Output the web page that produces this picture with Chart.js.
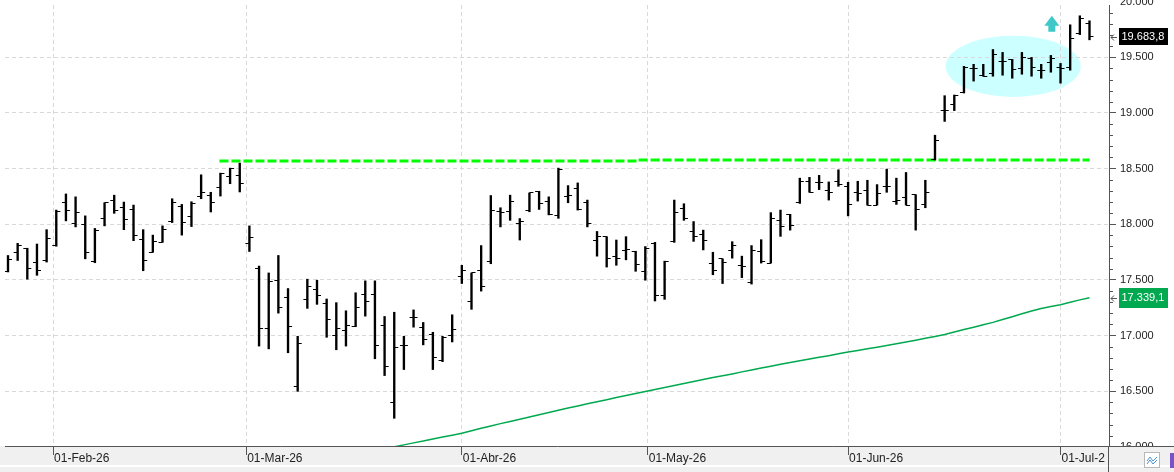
<!DOCTYPE html>
<html><head><meta charset="utf-8">
<script src="https://cdn.jsdelivr.net/npm/chart.js@4.4.1/dist/chart.umd.min.js"></script>
<style>html,body{margin:0;padding:0;background:#fff;overflow:hidden}#wrap{width:1174px;height:472px}</style>
</head><body><div id="wrap"><canvas id="c" width="1174" height="472"></canvas></div>
<script>
// ---- trading days (categories) ----
const dates = [
 '2026-01-26','2026-01-27','2026-01-28','2026-01-29','2026-01-30',
 '2026-02-02','2026-02-03','2026-02-04','2026-02-05','2026-02-06','2026-02-09','2026-02-10','2026-02-11','2026-02-12','2026-02-13',
 '2026-02-16','2026-02-17','2026-02-18','2026-02-19','2026-02-20','2026-02-23','2026-02-24','2026-02-25','2026-02-26','2026-02-27',
 '2026-03-02','2026-03-03','2026-03-04','2026-03-05','2026-03-06','2026-03-09','2026-03-10','2026-03-11','2026-03-12','2026-03-13',
 '2026-03-16','2026-03-17','2026-03-18','2026-03-19','2026-03-20','2026-03-23','2026-03-24','2026-03-25','2026-03-26','2026-03-27','2026-03-30','2026-03-31',
 '2026-04-01','2026-04-02','2026-04-07','2026-04-08','2026-04-09','2026-04-10','2026-04-13','2026-04-14','2026-04-15','2026-04-16',
 '2026-04-17','2026-04-20','2026-04-21','2026-04-22','2026-04-23','2026-04-24','2026-04-27','2026-04-28','2026-04-29','2026-04-30',
 '2026-05-04','2026-05-05','2026-05-06','2026-05-07','2026-05-08','2026-05-11','2026-05-12','2026-05-13','2026-05-14','2026-05-15',
 '2026-05-18','2026-05-19','2026-05-20','2026-05-21','2026-05-22','2026-05-25','2026-05-26','2026-05-27','2026-05-28','2026-05-29',
 '2026-06-01','2026-06-02','2026-06-03','2026-06-04','2026-06-05','2026-06-08','2026-06-09','2026-06-10','2026-06-11','2026-06-12',
 '2026-06-15','2026-06-16','2026-06-17','2026-06-18','2026-06-19','2026-06-22','2026-06-23','2026-06-24','2026-06-25','2026-06-26','2026-06-29','2026-06-30',
 '2026-07-01','2026-07-02','2026-07-03','2026-07-06'
];
// ---- OHLC series ----
const open = [17571,17748,17784,17660,17674,
 17808,18199,18006,18000,17666,18051,18217,18154,18133,17861,17748,17837,18021,18163,18069,18253,18258,18326,18430,18439,
 17828,17606,17062,17497,17340,16540,17328,17417,17286,16999,17044,17082,17364,17364,17088,16395,16911,17162,17074,17008,16778,16999,
 17532,17310,17580,17666,18110,18112,18006,18127,18290,18208,18075,18253,18317,18193,17852,17888,17710,17764,17757,17577,
 17828,17358,17843,18139,17933,17911,17651,17689,17764,17631,17473,17757,17651,18035,18089,18193,18380,18377,18305,18386,
 18341,18287,18305,18172,18341,18208,18238,18266,18178,18586,19021,19072,19188,19401,19339,19357,19463,19481,19401,19490,19384,19454,
 19410,19410,19713,19801];
const high = [17719,17828,17784,17822,17951,
 18127,18272,18246,18075,17962,18193,18261,18199,18172,17951,17902,17985,18229,18178,18202,18444,18287,18459,18504,18549,
 17985,17624,17562,17719,17422,16993,17506,17497,17328,17295,17222,17384,17491,17491,17171,17209,16993,17230,17117,17029,16993,17186,
 17631,17562,17808,18258,18148,18261,18051,18281,18296,18246,18504,18347,18371,18217,17935,17888,17858,17888,17757,17799,
 17837,17668,18217,18184,18024,17947,17748,17689,17843,17713,17808,17861,18104,18127,18089,18414,18421,18439,18380,18489,
 18377,18386,18395,18356,18495,18414,18465,18266,18395,18800,19155,19161,19419,19437,19437,19570,19544,19481,19544,19499,19437,19517,
 19445,19792,19873,19828];
const low = [17571,17674,17506,17541,17660,
 17802,18030,17976,17689,17654,17985,18098,17951,17852,17582,17748,17837,18015,17902,17979,18229,18110,18253,18364,18290,
 17755,16905,16880,17201,16845,16498,17244,17280,16984,16872,16905,17079,17174,16791,16640,16256,16694,17075,16916,16694,16765,16942,
 17467,17235,17399,17645,17976,18035,17858,18112,18133,18084,18053,18193,18127,17976,17713,17615,17631,17680,17577,17497,
 17310,17325,17837,18035,17846,17769,17546,17467,17695,17520,17462,17651,17651,17891,17947,18187,18287,18311,18217,18341,
 18075,18208,18172,18172,18287,18178,18172,17947,18148,18577,18924,19021,19179,19286,19330,19330,19339,19312,19348,19330,19312,19366,
 19268,19384,19704,19657];
const close = [17683,17811,17600,17586,17875,
 18112,18119,18104,17748,17942,18193,18119,18039,17902,17674,17843,17951,18199,18015,18187,18287,18193,18459,18504,18362,
 17882,17062,17488,17251,17079,16928,17444,17358,17141,17062,17088,17251,17302,16911,16718,16893,16911,17165,16964,16806,16978,17053,
 17580,17562,17444,18127,18104,18202,18021,18281,18184,18084,18495,18261,18133,18006,17888,17695,17695,17773,17639,17784,
 17358,17668,18104,18051,17888,17852,17580,17660,17808,17622,17764,17666,18053,17979,17991,18386,18287,18377,18281,18356,
 18178,18275,18172,18272,18341,18217,18172,18133,18287,18755,19021,19155,19410,19401,19330,19526,19463,19393,19499,19410,19384,19490,
 19401,19668,19846,19683.8];
// ---- moving average (visible part only; earlier values lie below the axis) ----
const ma = [null,null,null,null,null,null,null,null,null,null,null,null,null,null,null,null,null,null,null,null,
 null,null,null,null,null,null,null,null,null,null,null,null,null,null,null,null,null,null,null,
 15987,16000,16017,16035,16051,16069,16087,16104,16122,16144,16166,16186,16208,16228,16248,16268,16288,16308,16328,16348,
 16367,16386,16404,16423,16442,16460,16479,16497,16515,16533,16551,16569,16587,16604,16622,16638,16655,16673,16690,16707,
 16724,16741,16757,16773,16788,16804,16819,16835,16851,16866,16881,16895,16910,16925,16941,16958,16975,16992,17009,17031,
 17053,17075,17096,17118,17144,17169,17195,17221,17243,17260,17277,17299,17320,17339.1];
// ---- month ticks ----
const monthStarts = ['2026-02-01','2026-03-01','2026-04-01','2026-05-01','2026-06-01','2026-07-01'];
const monthLabels = ['01-Feb-26','01-Mar-26','01-Abr-26','01-May-26','01-Jun-26','01-Jul-2'];
// ---- price axis ticks ----
const yTickValues = [];
for (let v = 16000; v <= 20000; v += 100) yTickValues.push(v);
const lastPrice = 19683.8;
const lastMA = 17339.1;
// ---- annotations (data coordinates) ----
const resistance = [{from: 21.9, to: 65.3, level: 18567}, {from: 65.3, to: 112.0, level: 18576}];
const zone = {x: 104.1, y: 19419, rx: 7.0, ry: 275};
const arrowUp = {x: 108.1, y: 19873};

// fractional positions of the month starts between trading days
const dayMs = s => Date.parse(s + 'T00:00:00Z');
const monthPos = monthStarts.map(m => {
  const t = dayMs(m);
  for (let i = 0; i < dates.length; i++) {
    const d = dayMs(dates[i]);
    if (d === t) return i;
    if (d > t) { const p = dayMs(dates[i - 1]); return i - 1 + (t - p) / (d - p); }
  }
  return dates.length;
});
const fmtInt = v => Math.floor(v / 1000) + '.' + String(Math.round(v % 1000)).padStart(3, '0');
const fmtDec = v => { const i = Math.floor(v); const d = Math.round((v - i) * 10); return fmtInt(i) + ',' + d; };

function tickImg(left) {
  const c = document.createElement('canvas'); c.width = 10; c.height = 1;
  const g = c.getContext('2d'); g.fillStyle = '#000';
  if (left) g.fillRect(1, 0, 4, 1); else g.fillRect(5, 0, 4, 1);
  return c;
}

Chart.defaults.font.family = '"Liberation Sans", Arial, sans-serif';

const decor = {
  id: 'decor',
  beforeDraw(chart) {
    const {ctx, chartArea: a, width: W, height: H} = chart;
    const xs = chart.scales.x, ys = chart.scales.y;
    ctx.save();
    ctx.fillStyle = '#fff'; ctx.fillRect(0, 0, W, H);
    ctx.fillStyle = '#f0f0f0'; ctx.fillRect(0, a.bottom, W, H - a.bottom);
    ctx.fillStyle = '#fff'; ctx.fillRect(0, H - 7, W, 2);
    const cx = xs.getPixelForValue(zone.x), cy = ys.getPixelForValue(zone.y);
    const rx = Math.abs(xs.getPixelForValue(zone.x + zone.rx) - cx);
    const ry = Math.abs(ys.getPixelForValue(zone.y + zone.ry) - cy);
    ctx.beginPath(); ctx.ellipse(cx, cy, rx, ry, 0, 0, Math.PI * 2);
    ctx.fillStyle = '#ccffff'; ctx.fill();
    ctx.restore();
  },
  afterDatasetsDraw(chart) {
    const {ctx} = chart;
    const ax = chart.scales.x.getPixelForValue(arrowUp.x), ay = chart.scales.y.getPixelForValue(arrowUp.y);
    ctx.save();
    ctx.beginPath();
    ctx.moveTo(ax, ay); ctx.lineTo(ax + 7.5, ay + 10); ctx.lineTo(ax + 3.5, ay + 10);
    ctx.lineTo(ax + 3.5, ay + 16); ctx.lineTo(ax - 3.5, ay + 16); ctx.lineTo(ax - 3.5, ay + 10);
    ctx.lineTo(ax - 7.5, ay + 10); ctx.closePath();
    ctx.fillStyle = '#40c8c8'; ctx.fill();
    ctx.restore();
  },
  afterDraw(chart) {
    const {ctx, chartArea: a, width: W, height: H} = chart;
    const ys = chart.scales.y;
    ctx.save();
    // minor ticks on price axis
    ctx.strokeStyle = '#555'; ctx.lineWidth = 1;
    ctx.beginPath();
    yTickValues.forEach(v => {
      if (v % 500 === 0) return;
      const y = Math.round(ys.getPixelForValue(v)) + 0.5;
      if (y < a.top || y > a.bottom) return;
      ctx.moveTo(a.right, y); ctx.lineTo(a.right + 4, y);
    });
    ctx.stroke();
    // partially hidden top label of the price axis
    ctx.fillStyle = '#222'; ctx.font = '11px "Liberation Sans", Arial, sans-serif';
    ctx.textBaseline = 'middle'; ctx.textAlign = 'left';
    ctx.fillText(fmtInt(20000), a.right + 11, ys.getPixelForValue(20000));
    // bottom-right corner panel
    ctx.fillStyle = '#f0f0f0'; ctx.fillRect(a.right, a.bottom + 1, W - a.right, H - a.bottom - 1);
    ctx.fillStyle = '#fff'; ctx.fillRect(a.right, H - 7, W - a.right, 2);
    ctx.strokeStyle = '#555';
    ctx.beginPath();
    ctx.moveTo(a.right - 0.5, a.bottom); ctx.lineTo(a.right - 0.5, H);
    ctx.moveTo(a.right, a.bottom + 0.5); ctx.lineTo(W, a.bottom + 0.5);
    ctx.stroke();
    ctx.fillStyle = '#fff'; ctx.fillRect(1144.5, 452.5, 15, 15);
    ctx.strokeStyle = '#b8b8b8'; ctx.strokeRect(1144.5, 452.5, 15, 15);
    ctx.strokeStyle = '#4a90d9'; ctx.beginPath();
    ctx.moveTo(1147, 461); ctx.lineTo(1150, 457); ctx.lineTo(1153, 461); ctx.lineTo(1157, 457);
    ctx.moveTo(1147, 464); ctx.lineTo(1150, 460); ctx.lineTo(1153, 464); ctx.lineTo(1157, 460);
    ctx.stroke();
    ctx.fillStyle = '#7a52c7'; ctx.fillRect(1170, 453, 4, 15);
    // price tags
    const tag = (v, bg, h) => {
      const y = ys.getPixelForValue(v);
      ctx.fillStyle = bg; ctx.fillRect(a.right + 10, Math.round(y - h / 2), 49, h);
      ctx.fillStyle = '#fff'; ctx.font = '11px "Liberation Sans", Arial, sans-serif';
      ctx.textBaseline = 'middle'; ctx.textAlign = 'left';
      ctx.fillText(fmtDec(v), a.right + 12.5, y + 0.5);
      const yy = Math.round(y) + 0.5;
      ctx.strokeStyle = '#555'; ctx.lineWidth = 1; ctx.beginPath();
      ctx.moveTo(a.right + 2, yy); ctx.lineTo(a.right + 8, yy);
      ctx.moveTo(a.right + 5, yy - 3); ctx.lineTo(a.right + 2, yy); ctx.lineTo(a.right + 5, yy + 3);
      ctx.stroke();
    };
    tag(lastPrice, '#000', 17);
    tag(lastMA, '#00a94f', 20);
    ctx.restore();
  }
};

const idx = dates.map((d, i) => i);
new Chart(document.getElementById('c'), {
  type: 'bar',
  data: {
    datasets: [
      {type: 'bar', data: idx.map(i => ({x: i, y: [low[i], high[i]]})), backgroundColor: '#000', borderWidth: 0, barThickness: 1.7, order: 2},
      {type: 'scatter', data: idx.map(i => ({x: i, y: open[i]})), pointStyle: tickImg(true), pointRadius: 3, order: 1},
      {type: 'scatter', data: idx.map(i => ({x: i, y: close[i]})), pointStyle: tickImg(false), pointRadius: 3, order: 0},
      {type: 'line', data: idx.filter(i => ma[i] != null).map(i => ({x: i, y: ma[i]})), borderColor: '#00a94f', borderWidth: 1.5, pointRadius: 0, fill: false, tension: 0, order: 6},
      ...resistance.map(r => ({type: 'line', data: [{x: r.from, y: r.level}, {x: r.to, y: r.level}], borderColor: '#00ff00', borderWidth: 3, borderDash: [9, 3], borderCapStyle: 'butt', pointRadius: 0, fill: false, order: 5}))
    ]
  },
  options: {
    responsive: false, animation: false, events: [],
    layout: {padding: 0},
    plugins: {legend: {display: false}, tooltip: {enabled: false}},
    scales: {
      x: {
        type: 'linear', min: -0.31, max: 114.02, offset: false,
        grid: {offset: false, color: '#d9d9d9', lineWidth: 1, drawTicks: true, tickLength: 9, tickColor: '#555', tickBorderDash: []},
        border: {display: true, color: '#555', width: 1, dash: [4, 3]},
        afterBuildTicks: s => { s.ticks = monthPos.map(v => ({value: v})); },
        afterFit: s => { s.height = 26; s.paddingLeft = 0; s.paddingRight = 0; },
        ticks: {autoSkip: false, maxRotation: 0, minRotation: 0, align: 'start', labelOffset: 1, padding: -4, color: '#222', font: {size: 12},
          callback: (v, i) => monthLabels[i]}
      },
      y: {
        type: 'linear', position: 'right', min: 16007, max: 19970,
        grid: {color: c => (c.tick && c.tick.value % 500 === 0) ? '#d9d9d9' : 'rgba(0,0,0,0)', lineWidth: 1, drawTicks: true, tickLength: 7,
          tickColor: c => (c.tick && c.tick.value % 500 === 0) ? '#555' : 'rgba(0,0,0,0)', tickBorderDash: []},
        border: {display: true, color: '#555', width: 1, dash: [4, 3]},
        afterBuildTicks: s => { s.ticks = yTickValues.filter(v => v <= 19970).map(v => ({value: v})); },
        afterFit: s => { s.width = 65; s.paddingTop = 0; s.paddingBottom = 0; },
        ticks: {autoSkip: false, padding: 4, color: '#222', font: {size: 11},
          callback: v => (v % 500 === 0 ? fmtInt(v) : '')}
      }
    }
  },
  plugins: [decor]
});
</script>
</body></html>
